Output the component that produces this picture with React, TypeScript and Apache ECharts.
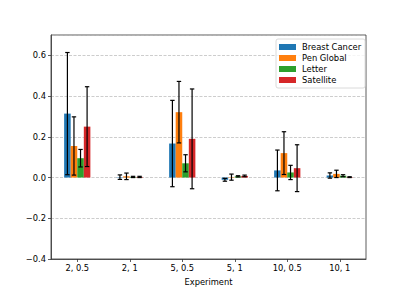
import React, { useEffect, useRef } from "react";
import * as echarts from "echarts";

const categories = ["2, 0.5", "2, 1", "5, 0.5", "5, 1", "10, 0.5", "10, 1"];
const seriesNames = ["Breast Cancer", "Pen Global", "Letter", "Satellite"];
const colors = ["#1f77b4", "#ff7f0e", "#2ca02c", "#d62728"];

const breastMean = [0.314, 0.002, 0.167, -0.011, 0.035, 0.01];
const breastErr = [0.3, 0.011, 0.212, 0.007, 0.1, 0.013];
const penMean = [0.155, 0.006, 0.321, 0.002, 0.12, 0.018];
const penErr = [0.143, 0.016, 0.151, 0.015, 0.105, 0.018];
const letterMean = [0.095, 0.003, 0.07, 0.006, 0.025, 0.009];
const letterErr = [0.043, 0.003, 0.042, 0.003, 0.035, 0.005];
const satMean = [0.25, 0.003, 0.19, 0.008, 0.046, 0.002];
const satErr = [0.196, 0.003, 0.245, 0.004, 0.115, 0.002];

const means = [breastMean, penMean, letterMean, satMean];
const errs = [breastErr, penErr, letterErr, satErr];

const FONT = "DejaVu Sans";

export default function App() {
  const ref = useRef<HTMLDivElement>(null);
  useEffect(() => {
    if (!ref.current) return;
    const chart = echarts.init(ref.current, undefined, { renderer: "svg" });
    const barSeries = seriesNames.map((name, k) => ({
      name,
      type: "bar",
      data: means[k],
      barWidth: "12.5%",
      barGap: "0%",
      itemStyle: { color: colors[k] },
      z: 2,
    }));
    const errSeries = seriesNames.map((name, k) => ({
      name: name + " err",
      type: "custom",
      z: 5,
      data: categories.map((_, i) => [i, means[k][i], errs[k][i]]),
      renderItem: (params: any, api: any) => {
        const x = api.value(0);
        const m = api.value(1);
        const e = api.value(2);
        const band = api.size([1, 0])[0];
        const off = (k - 1.5) * 0.125 * band;
        const top = api.coord([x, m + e]);
        const bot = api.coord([x, m - e]);
        const cx = top[0] + off;
        const cap = 2.2;
        const style = { stroke: "#000", lineWidth: 1.2 };
        return {
          type: "group",
          children: [
            { type: "line", shape: { x1: cx, y1: top[1], x2: cx, y2: bot[1] }, style },
            { type: "line", shape: { x1: cx - cap, y1: top[1], x2: cx + cap, y2: top[1] }, style },
            { type: "line", shape: { x1: cx - cap, y1: bot[1], x2: cx + cap, y2: bot[1] }, style },
          ],
        };
      },
    }));
    chart.setOption({
      animation: false,
      textStyle: { fontFamily: FONT },
      grid: {
        left: 51,
        right: 41,
        top: 35,
        bottom: 32,
        show: true,
        borderColor: "#333",
        borderWidth: 0.8,
        backgroundColor: "transparent",
      },
      legend: {
        data: seriesNames,
        orient: "vertical",
        left: 276,
        top: 39,
        itemWidth: 17,
        itemHeight: 6,
        itemGap: 3,
        padding: [4, 4, 4, 3],
        borderColor: "#d0d0d0",
        borderWidth: 0.8,
        borderRadius: 2,
        backgroundColor: "rgba(255,255,255,0.8)",
        textStyle: { fontFamily: FONT, fontSize: 8.4, color: "#000", padding: [0, 0, 0, 1] },
        icon: "rect",
      },
      xAxis: {
        type: "category",
        data: categories,
        name: "Experiment",
        nameLocation: "middle",
        nameGap: 19,
        nameTextStyle: { fontFamily: FONT, fontSize: 8.3, color: "#000" },
        axisLine: { show: true, onZero: false, lineStyle: { color: "#333", width: 0.8 } },
        axisTick: { show: true, alignWithLabel: true, length: 3, lineStyle: { color: "#333", width: 0.8 } },
        axisLabel: { fontFamily: FONT, fontSize: 8.3, color: "#000", margin: 5 },
        splitLine: { show: false },
      },
      yAxis: {
        type: "value",
        min: -0.4,
        max: 0.7,
        interval: 0.2,
        axisLine: { show: true, lineStyle: { color: "#333", width: 0.8 } },
        axisTick: { show: true, length: 3, lineStyle: { color: "#333", width: 0.8 } },
        axisLabel: {
          fontFamily: FONT,
          fontSize: 8.3,
          color: "#000",
          margin: 5,
          showMaxLabel: false,
          formatter: (v: number) => (Math.abs(v - 0.7) < 1e-6 ? "" : (v < 0 ? "\u2212" : "") + Math.abs(v).toFixed(1)),
        },
        splitLine: { show: true, lineStyle: { color: "#b8b8b8", type: [3, 1.5], width: 0.7 } },
      },
      series: [...barSeries, ...errSeries],
    });
    return () => chart.dispose();
  }, []);
  return <div ref={ref} style={{ width: 407, height: 291, position: "absolute", left: 0, top: 0 }} />;
}
